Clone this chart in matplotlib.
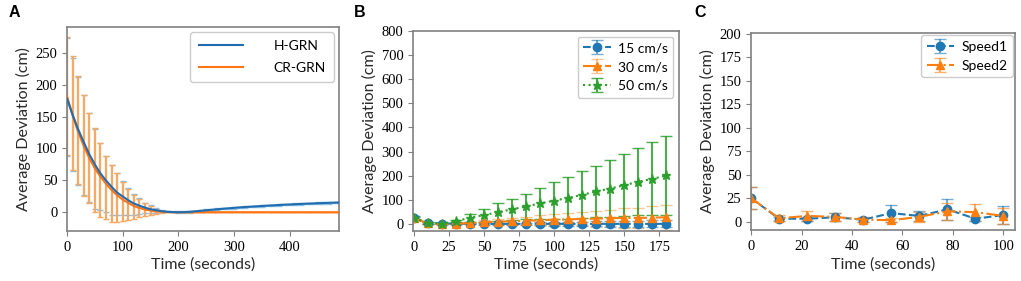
import numpy as np
import matplotlib
matplotlib.use("Agg")
from matplotlib import pyplot as plt
from matplotlib.colors import to_rgba

plt.rcParams["font.family"] = ["Liberation Serif", "DejaVu Serif"]

# ---- panel A: H-GRN vs CR-GRN, sampled every 10 s ----
t_a = np.arange(0, 500, 10)
hgrn = [178, 153, 130, 110, 91, 75, 61, 50, 40, 31,
        25, 19, 14, 10.5, 7.5, 5, 3.5, 2, 1, 0.5,
        0.3, 0.5, 1, 1.8, 2.6, 3.4, 4.2, 5, 5.8, 6.5,
        7.2, 7.9, 8.5, 9, 9.6, 10.1, 10.6, 11.1, 11.6, 12.1,
        12.5, 12.9, 13.3, 13.7, 14, 14.4, 14.7, 15, 15.3, 15.6]
hgrn_err_lo = [89, 88, 87, 83, 75, 69, 57.5, 49, 43.5, 35,
               29, 23.5, 18, 13, 9, 6, 4, 2, 1, 0.5] + [1.2] * 30
hgrn_err_hi = [94, 88, 82, 74, 64, 56, 47, 39, 34, 30,
               24, 19, 15, 11.5, 7.5, 6, 3.5, 2, 2, 1.5] + [1.2] * 30
crgrn = [182, 152, 126, 104, 85, 69, 56, 45, 35, 27,
         20, 15, 10, 7, 4.5, 3, 1.5, 1, 0.5, 0.3] + [0.3] * 30
crgrn_err_lo = [92, 86, 82, 78, 69.5, 68, 63, 55.5, 49.6, 41.6,
                33.5, 27, 19.5, 14, 9.5, 6.5, 3.5, 2, 0.5, 0.3] + [0] * 30
crgrn_err_hi = [92, 92, 88, 79, 71, 63, 52, 44, 39, 34,
                28, 22, 18, 14, 10.5, 7, 4.5, 2, 1.5, 0.5] + [0] * 30

# ---- panel B: three speeds ----
t_b = np.arange(0, 190, 10)
v15 = [24, 5, 2, 1, 1, 0.5, 0.5, 0.5, 0.5, 0.5, 0.5, 0.5, 0.5, 0.5, 0.5, 0.5, 0.5, 0.5, 0.5]
v15_err = [7, 3, 2, 2, 3, 4, 4, 5, 5, 6, 7, 8, 9, 10, 11, 12, 13, 14, 15]
v30 = [24, 3, -1, 1, 4, 7, 10, 11, 14, 15, 18, 19, 21, 22, 24, 25, 25, 26, 28]
v30_err = [6, 3, 3, 4, 6, 8, 11, 14, 16, 22, 24, 25, 27, 33, 34, 40, 43, 50, 52]
v50 = [25, 5, 1, 12, 26, 37, 49, 61, 73, 85, 97, 108, 121, 135, 147, 161, 175, 187, 201]
v50_err = [8, 3, 2, 5, 16, 27, 36, 44, 53, 65, 75, 86, 97, 106, 119, 129, 138, 151, 162]

# ---- panel C: two speeds ----
t_c = [0, 11.1, 22.2, 33.3, 44.4, 55.6, 66.7, 77.8, 88.9, 100]
speed1 = [25, 3, 3, 4.6, 2, 9, 6, 13, 3, 7]
speed1_err = [12, 2, 2, 4, 2, 9, 5, 11, 2, 10]
speed2 = [25, 3.5, 6, 5, 2, 1.5, 5, 11, 10, 6]
speed2_err = [12, 3, 5, 4, 3, 2, 5, 9, 9, 8.5]

BLUE, ORANGE, GREEN = "#1f77b4", "#ff7f0e", "#2ca02c"
label_kw = dict(fontsize=11.5, family="Lato", color="#2a2a2a")
leg_kw = dict(prop={"family": "Lato", "size": 10}, framealpha=1, edgecolor="#cccccc")

fig = plt.figure(figsize=(10.21, 2.81), dpi=100)
axA = fig.add_axes([0.0656, 0.178, 0.2664, 0.726])
axB = fig.add_axes([0.4045, 0.178, 0.2605, 0.7117])
axC = fig.add_axes([0.7356, 0.1815, 0.2586, 0.701])

for ax in (axA, axB, axC):
    for s in ax.spines.values():
        s.set_color("#808080")
        s.set_linewidth(1.2)
    ax.tick_params(color="#808080", length=3.5, labelsize=10.5)
    ax.set_xlabel("Time (seconds)", labelpad=3, **label_kw)
    ax.set_ylabel("Average Deviation (cm)", labelpad=3, **label_kw)

# panel A
axA.errorbar(t_a, hgrn, yerr=[hgrn_err_lo, hgrn_err_hi], fmt="none",
             ecolor="#8cbde3", elinewidth=1.5, capsize=2, zorder=1)
axA.errorbar(t_a, crgrn, yerr=[crgrn_err_lo, crgrn_err_hi], fmt="none",
             ecolor="#f7a861", elinewidth=1.6, capsize=2, zorder=2)
axA.plot(t_a, hgrn, color="#1f6db0", lw=1.5, label="H-GRN", zorder=4)
axA.plot(t_a, crgrn, color="#ff7415", lw=1.5, label="CR-GRN", zorder=3)
axA.set_xlim(0, 488)
axA.set_ylim(-29, 290)
axA.set_xticks([0, 100, 200, 300, 400])
axA.set_yticks([0, 50, 100, 150, 200, 250])
axA.legend(loc="upper right", handlelength=3.2, handletextpad=2.2,
           labelspacing=0.7, borderpad=0.6, borderaxespad=0.35, **leg_kw)

# panel B
axB.errorbar(t_b, v15, yerr=v15_err, fmt="--o", color=BLUE, ms=6,
             ecolor=to_rgba(BLUE, 0.6), capsize=4, label="15 cm/s")
axB.errorbar(t_b, v30, yerr=v30_err, fmt="-.^", color=ORANGE, ms=6,
             ecolor=to_rgba(ORANGE, 0.45), capsize=4, label="30 cm/s")
axB.errorbar(t_b, v50, yerr=v50_err, fmt=":*", color=GREEN, ms=6.5,
             ecolor=to_rgba(GREEN, 0.85), capsize=4, label="50 cm/s")
axB.set_xlim(-0.7, 189)
axB.set_ylim(-29, 800)
axB.set_xticks([0, 25, 50, 75, 100, 125, 150, 175])
axB.set_yticks(range(0, 801, 100))
axB.legend(loc="upper right", handlelength=2.0, handletextpad=0.5,
           borderaxespad=0.4, **leg_kw)

# panel C
axC.errorbar(t_c, speed1, yerr=speed1_err, fmt="--o", color=BLUE, ms=6,
             ecolor=to_rgba(BLUE, 0.6), capsize=4, label="Speed1")
axC.errorbar(t_c, speed2, yerr=speed2_err, fmt="-.^", color=ORANGE, ms=6,
             ecolor=to_rgba(ORANGE, 0.6), capsize=4, label="Speed2")
axC.set_xlim(0, 104.6)
axC.set_ylim(-9, 201)
axC.set_xticks([0, 20, 40, 60, 80, 100])
axC.set_yticks(range(0, 201, 25))
axC.legend(loc="upper right", handlelength=2.0, handletextpad=0.5,
           borderaxespad=0.15, **leg_kw)

for letter, x in (("A", 0.0145), ("B", 0.3525), ("C", 0.6855)):
    fig.text(x, 0.955, letter, fontsize=11.5, fontweight="bold",
             family="Liberation Sans", va="center", ha="center")

fig.savefig("out.png", dpi=100)
